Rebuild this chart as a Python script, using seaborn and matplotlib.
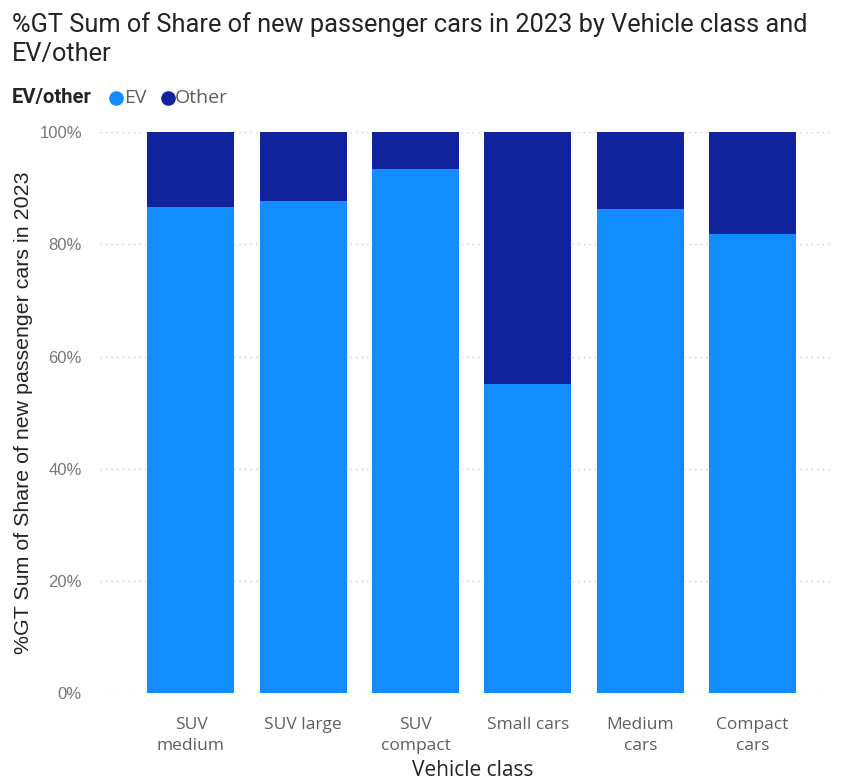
import matplotlib
matplotlib.use("Agg")
import matplotlib.pyplot as plt
import seaborn as sns
import pandas as pd
from matplotlib.lines import Line2D
from matplotlib.ticker import PercentFormatter

# Share of new passenger cars in 2023 by vehicle class (percent of class total)
categories = ["SUV\nmedium", "SUV large", "SUV\ncompact", "Small cars", "Medium\ncars", "Compact\ncars"]
ev_share = [86.6, 87.8, 93.4, 55.1, 86.3, 81.9]
other_share = [13.4, 12.2, 6.6, 44.9, 13.7, 18.1]
y_ticks = [0, 20, 40, 60, 80, 100]
series_names = ["EV", "Other"]

EV_COLOR = "#118DFF"
OTHER_COLOR = "#12239E"

df = pd.DataFrame({"class": categories, "EV": ev_share, "Other": other_share})
df["stack_top"] = df["EV"] + df["Other"]

sns.set_theme(style="white")
plt.rcParams["font.family"] = ["Open Sans", "DejaVu Sans"]

W, H = 841, 781
fig = plt.figure(figsize=(W / 100, H / 100), dpi=100)
ax = fig.add_axes([100 / W, (H - 693.3) / H, (830 - 100) / W, (693.3 - 132.3) / H])

# Stacked bars: full stack in "Other" colour, EV drawn over the lower part
sns.barplot(data=df, x="class", y="stack_top", color=OTHER_COLOR, width=0.775,
            saturation=1, linewidth=0, ax=ax, zorder=2)
sns.barplot(data=df, x="class", y="EV", color=EV_COLOR, width=0.775,
            saturation=1, linewidth=0, ax=ax, zorder=3)

ax.set_ylim(0, 100)
ax.set_xlim(-0.81, 5.69)
ax.set_yticks(y_ticks)
ax.yaxis.set_major_formatter(PercentFormatter(decimals=0))
for y in y_ticks:
    ax.axhline(y, color="#C8C6C4", linewidth=1, linestyle=(0, (1, 3)), zorder=1)

for s in ax.spines.values():
    s.set_visible(False)
ax.tick_params(axis="y", length=0, pad=13, labelsize=12, labelcolor="#777777")
ax.tick_params(axis="x", length=0, pad=17, labelsize=12.5, labelcolor="#605E5C")
for t in ax.get_yticklabels():
    t.set_fontfamily(["Liberation Sans", "DejaVu Sans"])
for t in ax.get_xticklabels():
    t.set_linespacing(1.4)

ax.set_xlabel("Vehicle class", fontsize=15, color="#252423")
ax.xaxis.set_label_coords(0.51, -0.1385)
ax.xaxis.label.set_va("center")
ax.set_ylabel("%GT Sum of Share of new passenger cars in 2023", fontsize=15.4,
              color="#252423", fontfamily=["Liberation Sans", "DejaVu Sans"])
ax.yaxis.set_label_coords(-0.105, 0.5)
ax.yaxis.label.set_va("center")

# Title
title_font = ["Roboto", "DejaVu Sans"]
fig.text(12 / W, 1 - 25 / H, "%GT Sum of Share of new passenger cars in 2023 by Vehicle class and",
         fontsize=18.3, color="#252423", va="center", ha="left", family=title_font)
fig.text(12 / W, 1 - 54 / H, "EV/other", fontsize=18.3, color="#252423", va="center",
         ha="left", family=title_font)

# Legend row
legend_y = 1 - 98 / H
fig.text(12 / W, legend_y, "EV/other", fontsize=14.5, fontweight="bold",
         color="#252423", va="center", ha="left", family=title_font)
for name, color, cx, tx in zip(series_names, [EV_COLOR, OTHER_COLOR], [116, 168], [124, 175]):
    fig.add_artist(Line2D([cx / W], [legend_y], marker="o", linestyle="", markersize=9.5,
                          color=color, transform=fig.transFigure))
    fig.text(tx / W, legend_y, name, fontsize=14, color="#605E5C", va="center", ha="left")

fig.savefig("out.png", dpi=100)
